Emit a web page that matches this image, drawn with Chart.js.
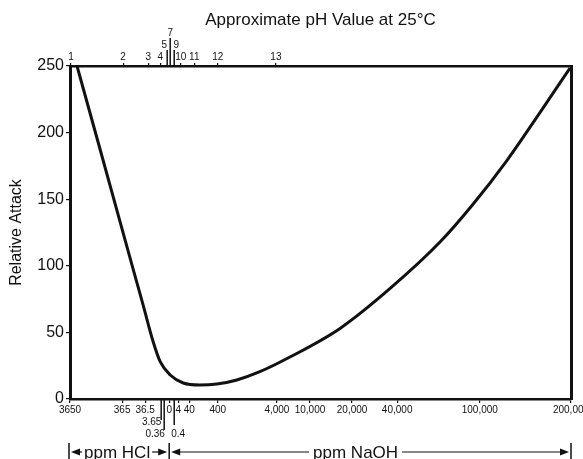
<!DOCTYPE html>
<html>
<head>
<meta charset="utf-8">
<script src="https://cdn.jsdelivr.net/npm/chart.js@4/dist/chart.umd.min.js"></script>
<style>
  html, body { margin: 0; padding: 0; background: #fff; }
  #wrap { width: 583px; height: 459px; position: relative; }
</style>
</head>
<body>
<div id="wrap"><canvas id="chart"></canvas></div>
<script>
// positions along the horizontal axis, as % of axis length (axis is not uniform in ppm or pH)
const phPos = [0.2, 10.6, 15.6, 18.0, 18.8, 20.0, 21.2, 22.1, 24.8, 29.5, 41.1];
const phLabels = ['1', '2', '3', '4', ['5', ''], ['7', '', ''], ['9', ''], '10', '11', '12', '13'];

const ppmPos = [0, 10.4, 15.0, 16.3, 17.0, 19.8, 21.6, 21.6, 23.8, 29.5, 41.3, 47.9, 56.3, 65.3, 81.8, 100];
const ppmLabels = ['3650', '365', '36.5', ['', '3.65'], ['', '', '0.36'], '0', ['', '', '0.4'], '4', '40', '400',
  '4,000', '10,000', '20,000', '40,000', '100,000', '200,000'];
const ppmHideTick = [false, false, false, true, true, false, true, false, false, false,
  false, false, false, false, false, false];

// long marker lines for the values around neutral
const topMarkPos = [19.4, 20.0, 20.8];
const topMarkLen = [16, 28, 16];
const bottomMarkPos = [18.2, 18.8, 20.8];
const bottomMarkLen = [21, 31, 26];

const neutralPos = 19.8;
const naohLabelPos = 57;

// curve
const curveX = [1.4, 6.0, 10.0, 12.6, 14.6, 16.6, 18.0, 20.0, 22.6, 25.9, 29.3, 33.3, 37.9, 43.9,
  53.9, 63.9, 73.9, 80.4, 87.2, 93.8, 99.8];
const curveY = [250, 187.5, 133, 97.5, 70.5, 43, 28, 18, 12, 10.5, 11.2, 14.3, 20.5, 31.5,
  53, 83, 118, 146, 179, 215, 248.5];

const yTicks = [0, 50, 100, 150, 200, 250];

const ink = '#111';
const font = "'Liberation Sans', Arial, Helvetica, sans-serif";

function arrow(ctx, x1, x2, y) {
  const dir = x2 > x1 ? 1 : -1;
  ctx.beginPath();
  ctx.moveTo(x1, y);
  ctx.lineTo(x2 - dir * 6, y);
  ctx.stroke();
  ctx.beginPath();
  ctx.moveTo(x2, y);
  ctx.lineTo(x2 - dir * 9, y - 3.5);
  ctx.lineTo(x2 - dir * 9, y + 3.5);
  ctx.closePath();
  ctx.fill();
}

const extras = {
  id: 'extras',
  afterDraw(chart) {
    const ctx = chart.ctx;
    const x = chart.scales.x;
    const { top, bottom } = chart.chartArea;
    ctx.save();
    ctx.strokeStyle = ink;
    ctx.fillStyle = ink;
    ctx.lineWidth = 1.5;
    topMarkPos.forEach((v, i) => {
      const px = x.getPixelForValue(v);
      ctx.beginPath(); ctx.moveTo(px, top); ctx.lineTo(px, top - topMarkLen[i]); ctx.stroke();
    });
    bottomMarkPos.forEach((v, i) => {
      const px = x.getPixelForValue(v);
      ctx.beginPath(); ctx.moveTo(px, bottom); ctx.lineTo(px, bottom + bottomMarkLen[i]); ctx.stroke();
    });

    // ppm HCl / ppm NaOH brackets
    const left = x.getPixelForValue(0) - 1;
    const mid = x.getPixelForValue(neutralPos);
    const right = x.getPixelForValue(100);
    const yl = 452;
    [left, mid, right].forEach(px => {
      ctx.beginPath(); ctx.moveTo(px, yl - 9); ctx.lineTo(px, 459); ctx.stroke();
    });
    ctx.font = '17px ' + font;
    ctx.textAlign = 'center';
    ctx.textBaseline = 'alphabetic';
    const hclX = (left + mid) / 2 - 2;
    const wH = ctx.measureText('ppm HCl').width;
    ctx.fillText('ppm HCl', hclX, 458);
    ctx.lineWidth = 1.2;
    arrow(ctx, hclX - wH / 2 - 2, left + 2, yl);
    arrow(ctx, hclX + wH / 2 + 2, mid - 2, yl);
    const naX = x.getPixelForValue(naohLabelPos);
    const wN = ctx.measureText('ppm NaOH').width;
    ctx.fillText('ppm NaOH', naX, 458);
    arrow(ctx, naX - wN / 2 - 4, mid + 2, yl);
    arrow(ctx, naX + wN / 2 + 4, right - 2, yl);
    ctx.restore();
  }
};

new Chart(document.getElementById('chart'), {
  type: 'line',
  data: {
    datasets: [{
      data: curveX.map((v, i) => ({ x: v, y: curveY[i] })),
      borderColor: ink,
      borderWidth: 3,
      pointRadius: 0,
      fill: false,
      cubicInterpolationMode: 'monotone'
    }]
  },
  options: {
    responsive: true,
    maintainAspectRatio: false,
    animation: false,
    layout: { padding: { left: 0, right: 12, top: 0, bottom: 0 } },
    plugins: { legend: { display: false }, tooltip: { enabled: false } },
    scales: {
      x: {
        type: 'linear', position: 'bottom', min: 0, max: 100,
        afterBuildTicks: s => { s.ticks = ppmPos.map(v => ({ value: v })); },
        afterFit: s => { s.height = 60; s.paddingLeft = 0; s.paddingRight = 0; },
        ticks: {
          autoSkip: false, maxRotation: 0, padding: 1, color: ink,
          font: { family: font, size: 10, lineHeight: 1.2 },
          callback: (v, i) => ppmLabels[i]
        },
        grid: {
          drawOnChartArea: false, tickLength: 4, lineWidth: 1.2,
          color: c => (ppmHideTick[c.index] ? 'rgba(0,0,0,0)' : ink)
        },
        border: { display: true, color: ink, width: 2.5 }
      },
      x2: {
        type: 'linear', position: 'top', min: 0, max: 100,
        afterBuildTicks: s => { s.ticks = phPos.map(v => ({ value: v })); },
        afterFit: s => { s.height = 66; s.paddingLeft = 0; s.paddingRight = 0; },
        ticks: {
          autoSkip: false, maxRotation: 0, padding: 0, color: ink,
          font: { family: font, size: 10, lineHeight: 1.2 },
          callback: (v, i) => phLabels[i]
        },
        grid: {
          drawOnChartArea: false, tickLength: 3, lineWidth: 1.2,
          color: c => (Array.isArray(phLabels[c.index]) ? 'rgba(0,0,0,0)' : ink)
        },
        border: { display: true, color: ink, width: 2.5 },
        title: {
          display: true, text: 'Approximate pH Value at 25°C', color: ink,
          font: { family: font, size: 17 }, padding: { top: 10, bottom: 0 }
        }
      },
      y: {
        min: 0, max: 250,
        afterBuildTicks: s => { s.ticks = yTicks.map(v => ({ value: v })); },
        afterFit: s => { s.width = 70; s.paddingTop = 0; s.paddingBottom = 0; },
        ticks: { padding: 2, color: ink, font: { family: font, size: 16 } },
        grid: { drawOnChartArea: false, tickLength: 4, color: ink, lineWidth: 1.2 },
        border: { display: true, color: ink, width: 3 },
        title: {
          display: true, text: 'Relative Attack', color: ink,
          font: { family: font, size: 16 }, padding: { top: 7, bottom: 0 }
        }
      },
      y2: {
        position: 'right', min: 0, max: 250,
        afterFit: s => { s.width = 0; },
        ticks: { display: false },
        grid: { drawOnChartArea: false, drawTicks: false },
        border: { display: true, color: ink, width: 3 }
      }
    }
  },
  plugins: [extras]
});
</script>
</body>
</html>
